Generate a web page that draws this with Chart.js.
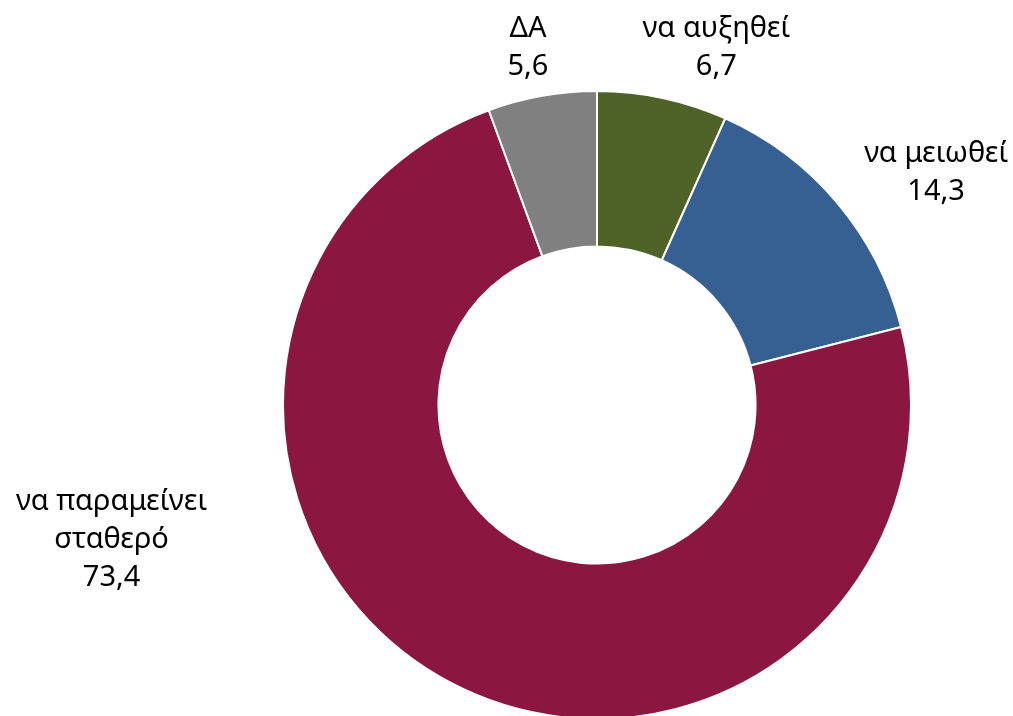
<!DOCTYPE html>
<html>
<head>
<meta charset="utf-8">
<script src="https://cdn.jsdelivr.net/npm/chart.js@4"></script>
<style>
  html, body { margin: 0; padding: 0; background: #fff; overflow: hidden; }
  #wrap { width: 1013px; height: 720px; position: relative; }
</style>
</head>
<body>
<div id="wrap"><canvas id="grafico"></canvas></div>
<script>
const categorias = [["να αυξηθεί"], ["να μειωθεί"], ["να παραμείνει", "σταθερό"], ["ΔΑ"]];
const valores = [6.7, 14.3, 73.4, 5.6];
const cores = ["#4f6228", "#366092", "#8b1740", "#808080"];

// posição dos rótulos em relação ao centro, em múltiplos do raio externo
const posRotulos = [
  { dx: 0.38, dy: -1.137 },
  { dx: 1.08, dy: -0.741 },
  { dx: -1.546, dy: 0.428 },
  { dx: -0.22, dy: -1.137 }
];

const fonteRotulo = "29px 'Noto Sans', sans-serif";
const alturaLinha = 38;

const rotulosPlugin = {
  id: "rotulos",
  afterDatasetsDraw(chart) {
    const ctx = chart.ctx;
    const meta = chart.getDatasetMeta(0);
    ctx.save();
    ctx.font = fonteRotulo;
    ctx.fillStyle = "#000";
    ctx.textAlign = "center";
    ctx.textBaseline = "middle";
    meta.data.forEach((arco, i) => {
      const r = arco.outerRadius;
      const cx = arco.x + posRotulos[i].dx * r;
      const cy = arco.y + posRotulos[i].dy * r;
      const linhas = categorias[i].concat([String(valores[i]).replace(".", ",")]);
      const topo = cy - (linhas.length - 1) * alturaLinha / 2;
      linhas.forEach((linha, j) => ctx.fillText(linha, cx, topo + j * alturaLinha));
    });
    ctx.restore();
  }
};

new Chart(document.getElementById("grafico"), {
  type: "doughnut",
  data: {
    labels: categorias.map(c => c.join(" ")),
    datasets: [
      {
        data: valores,
        backgroundColor: cores,
        borderColor: "#ffffff",
        borderWidth: 2
      }
    ]
  },
  options: {
    responsive: true,
    maintainAspectRatio: false,
    animation: false,
    cutout: "50.5%",
    layout: { padding: { top: 90, bottom: 0, left: 282, right: 101 } },
    plugins: {
      legend: { display: false },
      tooltip: { enabled: false }
    }
  },
  plugins: [rotulosPlugin]
});
</script>
</body>
</html>
